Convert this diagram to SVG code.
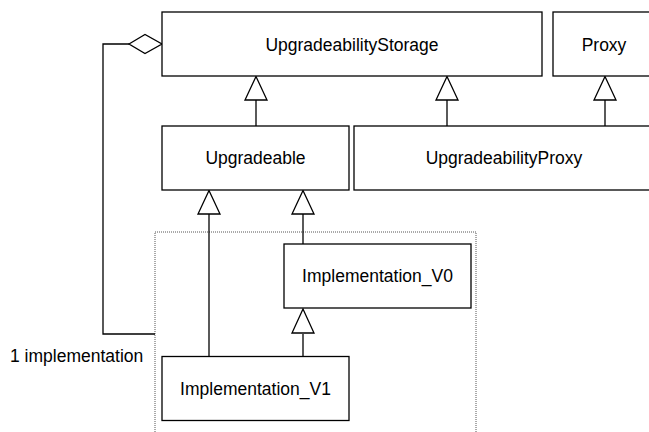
<svg xmlns="http://www.w3.org/2000/svg" width="649" height="432" viewBox="0 0 649 432">
<defs>
<style>
.box{fill:#fff;stroke:#000;stroke-width:1.3}
.lbl{font-family:"Liberation Sans",Arial,sans-serif;font-size:17.5px;fill:#000;text-anchor:middle}
.edge{fill:none;stroke:#000;stroke-width:1.3}
.tri{fill:#fff;stroke:#000;stroke-width:1.3}
</style>
</defs>
<rect width="649" height="432" fill="#fff"/>
<rect id="container" x="155" y="232" width="321" height="210" fill="none" stroke="#555" stroke-width="1" stroke-dasharray="1 1"/>
<g id="connectors">
<path class="edge" d="M129,44 H103 V334 H155"/>
<polygon class="tri" points="129,44 145,34.5 162,44 145,53.5"/>
<path class="edge" d="M256,126 V100"/>
<polygon class="tri" points="256,76.5 245,100 267,100"/>
<path class="edge" d="M447,126 V100"/>
<polygon class="tri" points="447,76.5 436,100 458,100"/>
<path class="edge" d="M605,126 V100"/>
<polygon class="tri" points="605,76.5 594,100 616,100"/>
<path class="edge" d="M303,244 V214"/>
<polygon class="tri" points="303,190.5 292,214 314,214"/>
<path class="edge" d="M209,356 V214"/>
<polygon class="tri" points="209,190.5 198,214 220,214"/>
<path class="edge" d="M303,356 V334"/>
<polygon class="tri" points="303,309 292,333 314,333"/>
</g>
<g id="UpgradeabilityStorage">
<rect class="box" x="162" y="12" width="380" height="64"/>
<text class="lbl" x="352" y="50.5">UpgradeabilityStorage</text>
</g>
<g id="Proxy">
<rect class="box" x="553" y="12" width="103" height="64"/>
<text class="lbl" x="604" y="50.5">Proxy</text>
</g>
<g id="Upgradeable">
<rect class="box" x="162" y="126" width="187" height="64"/>
<text class="lbl" x="255.5" y="164.3">Upgradeable</text>
</g>
<g id="UpgradeabilityProxy">
<rect class="box" x="354" y="126" width="302" height="64"/>
<text class="lbl" x="504" y="164.3">UpgradeabilityProxy</text>
</g>
<g id="Implementation_V0">
<rect class="box" x="284" y="244" width="187" height="64"/>
<text class="lbl" x="377.5" y="282.3">Implementation_V0</text>
</g>
<g id="Implementation_V1">
<rect class="box" x="162" y="356.5" width="187" height="64"/>
<text class="lbl" x="255.5" y="395">Implementation_V1</text>
</g>
<text x="10" y="362" style="font-family:'Liberation Sans',Arial,sans-serif;font-size:17.5px;fill:#000">1 implementation</text>
</svg>
